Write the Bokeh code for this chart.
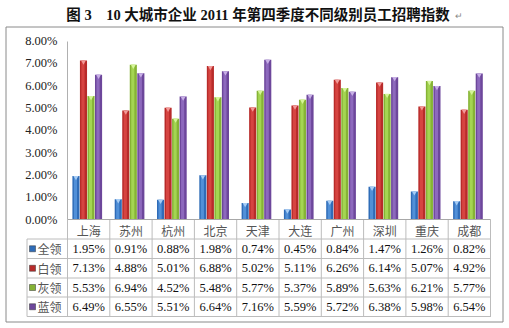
from bokeh.plotting import figure
from bokeh.models import Range1d, LinearAxis, FixedTicker, PrintfTickFormatter
from bokeh.core.properties import value
from bokeh.embed import file_html
from bokeh.resources import INLINE

# ---------------- data ----------------
TITLE = "图 3\u300010 大城市企业 2011 年第四季度不同级别员工招聘指数"
CITIES = ["上海", "苏州", "杭州", "北京", "天津", "大连", "广州", "深圳", "重庆", "成都"]
SERIES = ["全领", "白领", "灰领", "蓝领"]
QUAN = [1.95, 0.91, 0.88, 1.98, 0.74, 0.45, 0.84, 1.47, 1.26, 0.82]
BAI = [7.13, 4.88, 5.01, 6.88, 5.02, 5.11, 6.26, 6.14, 5.07, 4.92]
HUI = [5.53, 6.94, 4.52, 5.48, 5.77, 5.37, 5.89, 5.63, 6.21, 5.77]
LAN = [6.49, 6.55, 5.51, 6.64, 7.16, 5.59, 5.72, 6.38, 5.98, 6.54]
Y_TICKS = [0, 1, 2, 3, 4, 5, 6, 7, 8]

# ---------------- styles / layout ----------------
W, H = 509, 328
PX0, PXW = 67.0, 42.3        # pixel x of first category boundary, px per category
PY0, PYU = 219.0, 22.3125    # pixel y of 0 %, px per 1 %
BASE = ["#2f6cb8", "#b82b2a", "#86b335", "#6d479b"]
LIGHT = ["#5d9ce3", "#e04d4a", "#ade05c", "#9874c8"]
CAP = ["#a8cdf5", "#f29a98", "#d6f59a", "#c8b0e6"]
SERIF_S = "'Liberation Serif', 'Noto Sans CJK SC'"
CJK_S = "'Noto Sans CJK SC'"
SERIF = value(SERIF_S)
CJK = value(CJK_S)
GRID = "#bcbcbc"

p = figure(width=W, height=H, output_backend="svg", toolbar_location=None,
           x_axis_type=None, y_axis_type=None,
           x_range=Range1d(-PX0 / PXW, (W - PX0) / PXW),
           y_range=Range1d(-(H - PY0) / PYU, PY0 / PYU),
           min_border=0, min_border_left=0, min_border_right=0,
           min_border_top=0, min_border_bottom=0)
p.extra_x_ranges = {"px": Range1d(0, W)}
p.extra_y_ranges = {"px": Range1d(H, 0)}
p.outline_line_color = None
p.background_fill_color = "white"
p.border_fill_color = "white"
p.xgrid.visible = False
p.ygrid.visible = False

# outer border
p.quad(left=[5.5], right=[502.5], top=[26.5], bottom=[321.5], fill_color=None,
       line_color="#8a8a8a", line_width=1, x_range_name="px", y_range_name="px")

# title
p.text(x=[257.5], y=[14], text=[TITLE], x_range_name="px", y_range_name="px",
       text_font=SERIF, text_font_style="bold", text_font_size="14.5px",
       text_align="center", text_baseline="middle", text_color="#111111")
p.text(x=[454], y=[15], text=["↵"], x_range_name="px", y_range_name="px",
       text_font=CJK, text_font_size="9px", text_align="left",
       text_baseline="middle", text_color="#888888")

# bars
series_vals = [QUAN, BAI, HUI, LAN]
n = len(CITIES)
for k, vals in enumerate(series_vals):
    xs = [i + 0.467 + (k - 1.5) * 0.178 for i in range(n)]
    p.vbar(x=xs, bottom=0, top=vals, width=0.168, fill_color=BASE[k], line_color=None)
    p.vbar(x=[x - 0.012 for x in xs], bottom=0, top=vals, width=0.075,
           fill_color=LIGHT[k], line_color=None, fill_alpha=0.75)
    p.scatter(x=xs, y=[v - 0.06 for v in vals], marker="inverted_triangle", size=5,
              fill_color=CAP[k], line_color=None)

# table rows (pixel y boundaries)
ROW_Y = [238.5, 258.0, 277.5, 296.5, 316.0]
p.segment(x0=[26.5] * len(ROW_Y), x1=[490.5] * len(ROW_Y), y0=ROW_Y, y1=ROW_Y,
          line_color=GRID, line_width=1, x_range_name="px", y_range_name="px")
p.segment(x0=list(range(n + 1)), x1=list(range(n + 1)),
          y0=[PY0] * (n + 1), y1=[ROW_Y[-1]] * (n + 1),
          line_color=GRID, line_width=1, y_range_name="px")
p.segment(x0=[26.5], x1=[26.5], y0=[ROW_Y[0]], y1=[ROW_Y[-1]],
          line_color=GRID, line_width=1, x_range_name="px", y_range_name="px")

row_c = [(ROW_Y[r] + ROW_Y[r + 1]) / 2 for r in range(4)]
for k, vals in enumerate(series_vals):
    p.text(x=[i + 0.5 for i in range(n)], y=[row_c[k]] * n,
           text=["%.2f%%" % v for v in vals], y_range_name="px",
           text_font=SERIF, text_font_size="12.5px", text_align="center",
           text_baseline="middle", text_color="#111111")
# legend keys
p.scatter(x=[32] * 4, y=row_c, marker="square", size=6, fill_color=BASE,
          line_color="#333333", line_width=0.5, x_range_name="px", y_range_name="px")
p.text(x=[37] * 4, y=row_c, text=SERIES, x_range_name="px", y_range_name="px",
       text_font=CJK, text_font_size="12px", text_align="left",
       text_baseline="middle", text_color="#555555")

# axes
yaxis = LinearAxis(ticker=FixedTicker(ticks=Y_TICKS),
                   formatter=PrintfTickFormatter(format="%.2f%%"))
yaxis.fixed_location = 0
yaxis.bounds = (0, 8.0)
yaxis.axis_line_color = "#b0b0b0"
yaxis.major_tick_line_color = None
yaxis.minor_tick_line_color = None
yaxis.major_tick_out = 0
yaxis.major_tick_in = 0
yaxis.minor_tick_out = 0
yaxis.major_label_standoff = 10
yaxis.major_label_text_font = SERIF_S
yaxis.major_label_text_font_size = "12.5px"
yaxis.major_label_text_color = "#222222"
p.add_layout(yaxis, "left")

xaxis = LinearAxis(ticker=FixedTicker(ticks=[i + 0.5 for i in range(n)]),
                   major_label_overrides={i + 0.5: c for i, c in enumerate(CITIES)})
xaxis.fixed_location = 0
xaxis.bounds = (0, n)
xaxis.axis_line_color = "#a8a8a8"
xaxis.major_tick_line_color = None
xaxis.minor_tick_line_color = None
xaxis.major_tick_out = 0
xaxis.major_tick_in = 0
xaxis.minor_tick_out = 0
xaxis.major_label_standoff = 2
xaxis.major_label_text_font = CJK_S
xaxis.major_label_text_font_size = "12px"
xaxis.major_label_text_color = "#555555"
p.add_layout(xaxis, "below")

open("out.html", "w").write(file_html(p, INLINE))
